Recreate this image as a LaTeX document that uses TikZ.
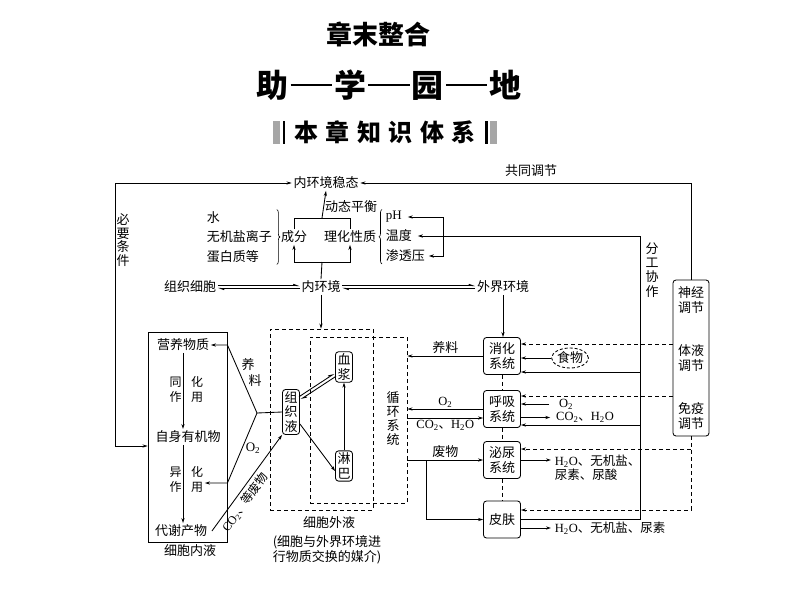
\documentclass[tikz,border=0pt]{standalone}
\usepackage{fontspec}
\setmainfont{Liberation Serif}
\newfontfamily\cjk{Noto Sans CJK SC}
\usetikzlibrary{arrows.meta,shapes.geometric,decorations.pathreplacing}
\newcommand\lat[1]{{\rmfamily #1}}
\newcommand\xb[1]{\textsubscript{#1}}

\begin{document}
\begin{tikzpicture}[x=1pt, y=-1pt,
    line width=0.85pt,
    every node/.style={font=\cjk\fontsize{13}{15}\selectfont, inner sep=1.5pt},
    lbl/.style={font=\cjk\fontsize{12.5}{14}\selectfont},
    vtext/.style={align=center, font=\cjk\fontsize{13}{14}\selectfont},
    rbox/.style={draw, rounded corners=3pt, align=center, inner sep=2pt, font=\cjk\fontsize{13}{14.5}\selectfont},
    sysbox/.style={rbox, minimum width=37pt, minimum height=37pt},
    dbox/.style={draw, dash pattern=on 4pt off 3pt},
    arr/.style={-{Stealth[length=5pt,width=3.2pt]}},
    arrtwo/.style={{Stealth[length=5pt,width=3.2pt]}-{Stealth[length=5pt,width=3.2pt]}},
    darr/.style={arr, dash pattern=on 4pt off 3pt},
    harp/.style={-{Straight Barb[left,length=4pt,width=3pt]}}
]
\fill[white] (0,0) rectangle (794,596);
\useasboundingbox (0,0) rectangle (794,596);

% Title
\node[font=\cjk\bfseries\fontsize{26}{28}\selectfont] (zmzh) at (378,34) {章末整合};
\node[font=\cjk\bfseries\fontsize{32}{34}\selectfont] (zxyd) at (389,85)
    {助\hspace{2pt}\rule[0.34em]{1.3em}{0.09em}\hspace{2pt}学\hspace{2pt}\rule[0.34em]{1.3em}{0.09em}\hspace{2pt}园\hspace{2pt}\rule[0.34em]{1.3em}{0.09em}\hspace{2pt}地};
\node[font=\cjk\bfseries\fontsize{24}{26}\selectfont] (bzzs) at (385,132)
    {本\kern7.5pt 章\kern7.5pt 知\kern7.5pt 识\kern7.5pt 体\kern7.5pt 系};
\fill[black!35] (273,121) rectangle (280,144);
\fill (282.5,121) rectangle (285,144);
\fill (485,121) rectangle (487.5,144);
\fill[black!35] (490,121) rectangle (497,144);

% Steady state
\node (wt) at (326,183) {内环境稳态};
\node (gttj) at (531,171) {共同调节};
\node (dtph) at (351,207) {动态平衡};
\node (cf) at (294,237) {成分};
\node (lhxz) at (350,237) {理化性质};
\node[align=left, anchor=west, font=\cjk\fontsize{13}{19.5}\selectfont] (zflist) at (205,237) {水\\无机盐离子\\蛋白质等};
\node[anchor=west] (ph) at (384,217) {\lat{pH}};
\node[anchor=west] (wd) at (384,236) {温度};
\node[anchor=west] (stn) at (384,256) {渗透压};
\node[vtext, font=\cjk\fontsize{13}{13.5}\selectfont] (byt) at (123,240) {必\\要\\条\\件};
\node[vtext, font=\cjk\fontsize{13}{14.3}\selectfont] (fgxz) at (652,270) {分\\工\\协\\作};

% Middle row
\node (zzxb) at (190,287) {组织细胞};
\node (nhj) at (321,287) {内环境};
\node (wjhj) at (503,287) {外界环境};

% Extracellular fluid
\node[dbox, minimum width=103pt, minimum height=181pt] (xbwy) at (321.5,419.5) {};
\node[dbox, minimum width=97pt, minimum height=166pt] (xhxtk) at (358.5,420) {};
\node[rbox] (zzy) at (291,412) {组\\织\\液};
\node[rbox] (xj) at (344,367) {血\\浆};
\node[rbox] (lb) at (344,466) {淋\\巴};
\node[vtext] (xhxt) at (393,419) {循\\环\\系\\统};
\node (xbwyl) at (329,523) {细胞外液};
\node[align=center, font=\cjk\fontsize{13}{15}\selectfont] (mjl) at (327,550) {(细胞与外界环境进\\行物质交换的媒介)};

% Intracellular fluid
\node[draw, minimum width=79pt, minimum height=210pt] (xbny) at (187.5,437) {};
\node (xbnyl) at (190,551) {细胞内液};
\node (yywz) at (183,345) {营养物质};
\node (zsyjw) at (188,437) {自身有机物};
\node (dxcw) at (181,531) {代谢产物};
\node[vtext, font=\cjk\fontsize{12}{14.5}\selectfont] (thl) at (175.5,389.5) {同\\作};
\node[vtext, font=\cjk\fontsize{12}{14.5}\selectfont] (thr) at (197,389.5) {化\\用};
\node[vtext, font=\cjk\fontsize{12}{14.5}\selectfont] (yhl) at (175.5,479.5) {异\\作};
\node[vtext, font=\cjk\fontsize{12}{14.5}\selectfont] (yhr) at (197,479.5) {化\\用};
\node (yla) at (248,365) {养};
\node (ylb) at (255,381) {料};
\node (otwo) at (253,448) {\lat{O\xb{2}}};

% Organ systems
\node[sysbox] (xh) at (502,356) {消化\\系统};
\node[sysbox] (hx) at (502,409) {呼吸\\系统};
\node[sysbox] (mn) at (502,460) {泌尿\\系统};
\node[sysbox] (pf) at (502,519.5) {皮肤};
\node[ellipse, draw, dash pattern=on 3pt off 2pt, inner sep=0pt, minimum width=34pt, minimum height=20pt] (sw) at (570,358) {食物};
\node[lbl] (otwob) at (566,404) {\lat{O\xb{2}}};
\node[lbl] (cotwob) at (585,417.5) {\lat{CO\xb{2}}、\lat{H\xb{2}O}};
\node[lbl, align=left, anchor=west] (mnout) at (553,468) {\lat{H\xb{2}O}、无机盐、\\尿素、尿酸};
\node[lbl, anchor=west] (pfout) at (553,528) {\lat{H\xb{2}O}、无机盐、尿素};

% Regulation
\node[rbox, minimum width=36pt, minimum height=156pt, font=\cjk\fontsize{13}{15.5}\selectfont] (tj) at (691,358)
    {神经\\调节\\[27pt]体液\\调节\\[27pt]免疫\\调节};

% Braces
\draw[line width=0.6pt, decorate, decoration={brace, amplitude=3pt}] ([xshift=3pt]zflist.north east) -- ([xshift=3pt]zflist.south east);
\draw[line width=0.6pt, decorate, decoration={brace, amplitude=3pt}] ([xshift=-2pt]stn.south west) -- ([xshift=-2pt]ph.north west);

% Arrows, top
\coordinate (dt) at (322,218);
\coordinate (nhjt) at (322,262);
\coordinate (phk) at (443,217);
\coordinate (fg) at (640,236);
\draw (cf.north) -- (cf.north |- dt) -- (lhxz.north |- dt) -- (lhxz.north);
\draw[arr] (dt) -- (wt.south);
\draw[arr] (nhjt) -| (cf.south);
\draw[arr] (nhjt) -| (lhxz.south);
\draw (nhj.north) -- (nhjt);
\draw[arr, shorten >=4pt] (phk) -- (ph.east);
\draw[arr, shorten >=2pt] (phk) |- (stn.east);
\draw[arr, shorten >=4pt] (fg) -- (wd.east);
\draw[arrtwo] (wt.west) -| (115,446) -- (xbny.west |- 0,446);
\draw[arr] (tj.north) |- (wt.east);

% Arrows, middle row
\draw[harp] ([yshift=1.3pt]zzxb.east) -- ([yshift=1.3pt]nhj.west);
\draw[harp] ([yshift=-1.3pt]nhj.west) -- ([yshift=-1.3pt]zzxb.east);
\draw[harp] ([yshift=1.3pt]nhj.east) -- ([yshift=1.3pt]wjhj.west);
\draw[harp] ([yshift=-1.3pt]wjhj.west) -- ([yshift=-1.3pt]nhj.east);
\draw[arr] (nhj.south) -- (nhj.south |- xbwy.north);
\draw[arr] (wjhj.south) -- (wjhj.south |- xh.north);

% Arrows, inner fluids
\draw[arr] (lb) -- (xj);
\draw[arr] ([yshift=-12pt]zzy.east) -- ([yshift=-5pt]lb.west);
\draw[harp] ([xshift=-0.9pt,yshift=15.3pt]zzy.east) -- ([xshift=-0.9pt,yshift=-6.7pt]xj.west);
\draw[harp] ([xshift=0.9pt,yshift=-9.3pt]xj.west) -- ([xshift=0.9pt,yshift=12.7pt]zzy.east);

% Arrows, cell
\coordinate (yljd) at (257,413);
\draw[arr] (yywz.south) -- (yywz.south |- zsyjw.north);
\draw[arr] (yywz.south |- zsyjw.south) -- (yywz.south |- dxcw.north);
\draw (zzy.west) -- (yljd);
\draw[arr] (yljd) -- (xbny.east |- yywz.east) -- (yywz.east);
\draw[arr] (yljd) -- (xbny.east |- 0,483) -- (yhr.east |- 0,483);
\draw[arr] ([xshift=3pt]dxcw.east) -- (zzy.south west)
    node[pos=0.36, sloped, below=2pt, font=\cjk\fontsize{12}{14}\selectfont] {\lat{CO\xb{2}}、等废物};

% Arrows, organ systems
\draw[dash pattern=on 4pt off 3pt] (xh) -- (hx);
\draw[dash pattern=on 4pt off 3pt] (hx) -- (mn);
\draw[dash pattern=on 4pt off 3pt] (mn) -- (pf);
\draw[arr] (xh.west) -- (xhxtk.east |- xh.west) node[midway, above] {养料};
\draw[arr] (hx.west) -- (xhxtk.east |- hx.west) node[midway, above, lbl] {\lat{O\xb{2}}};
\draw[arr] (xhxtk.east |- 0,418) -- (hx.west |- 0,418) node[midway, below, lbl] {\lat{CO\xb{2}}、\lat{H\xb{2}O}};
\coordinate (fwj) at (426,461);
\draw[arr] (xhxtk.east |- mn.west) -- (mn.west) node[midway, above] {废物};
\draw[arr] (fwj) |- (pf.west);
\draw[arr] (sw.west) -- (xh.east |- sw.west);
\draw[arr, shorten <=8pt] (otwob.west) -- (hx.east |- otwob.west);
\draw[arr, shorten >=4pt] (hx.east |- cotwob.west) -- (cotwob.west);
\draw[arr, shorten >=2pt] (mn.east) -- (mnout.west |- mn.east);
\draw[arr, shorten >=2pt] (pf.east |- pfout.west) -- (pfout.west);

% Division of labour
\draw (fg) |- (pf.east);
\draw[arr] (fg |- 0,372) -- (xh.east |- 0,372);
\draw[arr] (fg |- 0,425) -- (hx.east |- 0,425);

% Regulation arrows
\draw[darr] (tj.west |- 0,344) -- (xh.east |- 0,344);
\draw[darr] (tj.west |- 0,396) -- (hx.east |- 0,396);
\draw[darr] (tj.south) |- (pf.east |- 0,510);
\draw[darr] (tj.south |- 0,449) -- (mn.east |- 0,449);

\end{tikzpicture}
\end{document}
